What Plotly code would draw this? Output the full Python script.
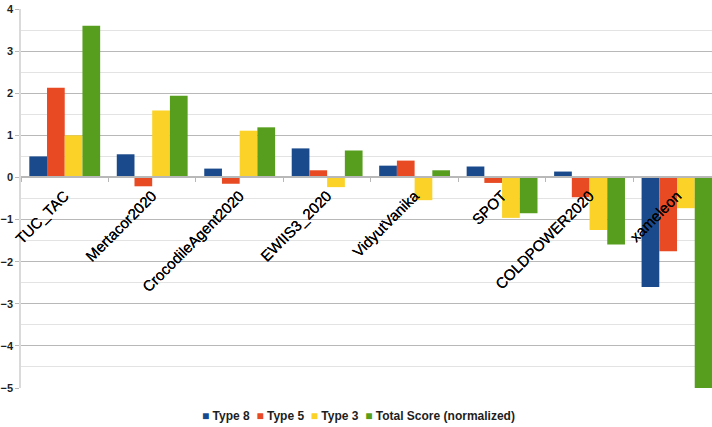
import plotly.graph_objects as go

# Teams on the category axis
teams = ["TUC_TAC", "Mertacor2020", "CrocodileAgent2020", "EWIIS3_2020",
         "VidyutVanika", "SPOT", "COLDPOWER2020", "xameleon"]

# Normalized scores per team
type8 = [0.50, 0.55, 0.21, 0.69, 0.28, 0.26, 0.14, -2.60]
type5 = [2.13, -0.21, -0.15, 0.17, 0.40, -0.13, -0.47, -1.75]
type3 = [1.00, 1.59, 1.11, -0.23, -0.54, -0.96, -1.25, -0.73]
total = [3.60, 1.94, 1.19, 0.64, 0.17, -0.85, -1.59, -5.00]

series_names = ["Type 8", "Type 5", "Type 3", "Total Score (normalized)"]
series_values = [type8, type5, type3, total]
series_colors = ["#1a4a8c", "#e84a23", "#fad228", "#579e1e"]

y_ticks = [4, 3, 2, 1, 0, -1, -2, -3, -4, -5]

FONT = "Liberation Sans"
TEXT = "#1e1e1e"
GRID = "#b8b8b8"

fig = go.Figure()
for name, vals, col in zip(series_names, series_values, series_colors):
    fig.add_trace(go.Bar(x=teams, y=vals, name=name, marker_color=col,
                         marker_line_width=0, showlegend=False))

# legend row built from the series names and colours
legend_parts = []
for name, col in zip(series_names, series_colors):
    legend_parts.append(f"<span style='color:{col}'>■</span> {name}")
legend_text = "&nbsp;&nbsp;".join(legend_parts)

ml, mr, mt, mb = 21, 0, 9, 39
W, H = 712, 427
plot_h = H - mt - mb
ymin, ymax = -5, 4
zero_pos = (0 - ymin) / (ymax - ymin)

fig.add_annotation(text=legend_text, xref="paper", yref="paper",
                   x=0.488, y=-28 / plot_h, xanchor="center", yanchor="middle",
                   showarrow=False,
                   font=dict(family=FONT, size=12, color=TEXT, weight="bold"))

fig.update_layout(
    width=W, height=H,
    margin=dict(l=ml, r=mr, t=mt, b=mb, pad=0),
    paper_bgcolor="white", plot_bgcolor="white",
    barmode="group", bargap=0.19, bargroupgap=0,
    font=dict(family=FONT, color=TEXT),
    xaxis=dict(
        type="category", range=[-0.5, 7.4],
        anchor="free", position=zero_pos,
        showline=True, linecolor=GRID, linewidth=1.5,
        ticks="outside", tickson="boundaries", ticklen=4,
        tickcolor=GRID, tickwidth=1,
        tickangle=-45, showgrid=False, zeroline=False,
        ticklabelstandoff=3,
        tickfont=dict(family=FONT, size=15, color="#000000",
                      shadow="0px 0px 0.6px #000000"),
    ),
    yaxis=dict(
        range=[ymin, ymax], tickvals=y_ticks,
        showline=True, linecolor="#dadada", linewidth=1.5,
        ticks="outside", ticklen=4, tickcolor=GRID, tickwidth=1,
        showgrid=True, gridcolor=GRID, gridwidth=1,
        zeroline=False,
        minor=dict(dtick=0.5, showgrid=True, gridcolor="#e3e3e3",
                   gridwidth=1, ticks=""),
        tickfont=dict(family=FONT, size=11, color=TEXT, weight="bold"),
    ),
)

fig.write_html("out.html")
